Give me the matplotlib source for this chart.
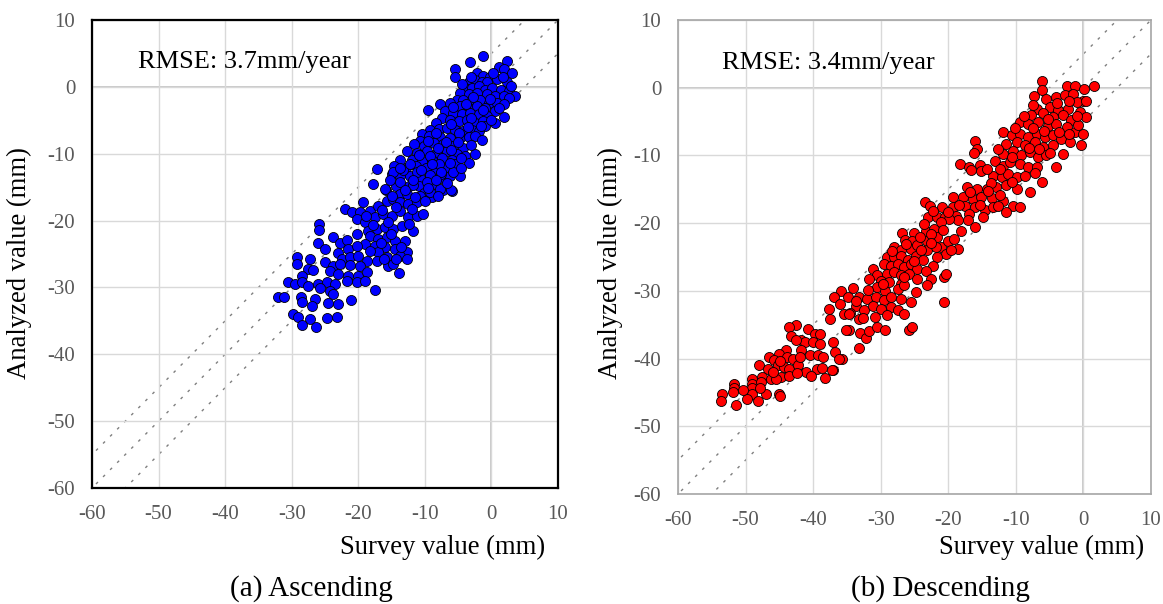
import numpy as np
import matplotlib.pyplot as plt

plt.rcParams['font.family'] = ['Liberation Serif', 'DejaVu Serif']
plt.rcParams['axes.unicode_minus'] = False

# (survey, analyzed) pairs, mm
asc_points = np.array([
    (-1.2, 4.6), (-3.2, 3.7), (2.4, 3.8), (1.1, 2.9), (1.9, 2.6), (-5.4, 2.6), (3.1, 2.1),
    (-5.4, 1.4), (-2.2, 2.1), (-1.2, 1.6), (-0.2, 1.4), (0.9, 1.2), (2.4, 0.7), (-3.4, 0.8),
    (-2.4, 1.1), (-1.4, 0.7), (-0.7, 0.7),
    (-3.9, -0.1), (-2.9, -0.1), (-1.9, 0.1), (-0.9, -0.4), (0.1, -0.1), (1.4, -0.4), (2.6, -0.6),
    (-4.7, -0.9), (-3.4, -1.1), (-2.2, -0.9), (-0.7, -1.1), (0.6, -1.4), (1.9, -1.4), (3.6, -1.4),
    (2.6, -1.6),
    (-5.2, -1.9), (-4.2, -1.9), (-2.9, -2.1), (-1.7, -1.9), (-0.4, -2.4), (0.9, -2.4), (1.9, -2.6),
    (-7.7, -2.6), (-6.2, -2.4), (-4.7, -2.9), (-3.4, -3.1), (-2.2, -2.9), (-0.9, -3.1), (0.6, -3.6),
    (-9.6, -3.4),
    (-6.9, -3.6), (-5.7, -3.9), (-4.4, -4.1), (-3.2, -3.9), (-1.9, -4.1), (-0.7, -4.4), (1.9, -4.5),
    (-7.4, -4.6), (-6.2, -4.9), (-4.9, -5.1), (-3.7, -5.0), (-2.4, -5.4), (-1.2, -5.1), (0.5, -5.4),
    (-8.4, -5.4),
    (-9.2, -6.4), (-7.9, -6.3), (-6.7, -6.1), (-5.4, -6.4), (-4.2, -6.6), (-2.9, -6.4), (-1.9, -6.6),
    (-0.9, -5.8), (-10.4, -7.1), (-9.4, -7.4), (-7.7, -7.5), (-6.2, -7.6), (-4.7, -7.6), (-3.4, -7.5),
    (-2.4, -7.4), (-1.4, -8.0), (-10.7, -8.1), (-8.7, -8.4),
    (-11.7, -8.6), (-10.2, -8.9), (-7.2, -8.6), (-5.7, -8.9), (-4.2, -9.1), (-12.7, -9.6),
    (-11.2, -9.9), (-9.7, -9.6), (-8.2, -9.9), (-6.7, -9.6), (-5.2, -10.0), (-3.9, -10.4),
    (-2.4, -10.0), (-13.7, -10.9), (-11.9, -10.9), (-10.4, -11.1), (-8.9, -10.9), (-7.4, -10.6),
    (-5.9, -10.9), (-3.4, -11.4),
    (-14.7, -11.9), (-12.9, -12.1), (-11.4, -11.9), (-9.9, -12.1), (-8.4, -12.4), (-6.9, -12.1),
    (-5.4, -11.6), (-14.9, -13.1), (-13.7, -13.4), (-12.2, -13.3), (-10.7, -13.6), (-9.2, -13.4),
    (-7.7, -13.6), (-6.2, -13.4), (-4.7, -13.4), (-15.9, -15.4), (-14.4, -14.9), (-12.4, -14.9),
    (-10.9, -14.9), (-8.7, -14.6), (-7.2, -15.4), (-5.9, -15.6), (-10.2, -15.9), (-13.7, -16.1),
    (-14.75, -12.75), (-13.25, -12.5), (-11.25, -12.75), (-9.25, -13.25), (-7.5, -13.0),
    (-5.75, -12.75), (-13.75, -14.25), (-11.75, -14.75), (-9.75, -14.25), (-7.75, -15.25),
    (-6.0, -15.5), (-12.75, -16.0), (-10.75, -16.25), (-9.0, -16.5),
    (-17.25, -12.35), (-17.75, -14.5), (-16.0, -15.25),
    (-19.25, -17.25), (-22.0, -18.25), (-21.0, -18.65), (-19.75, -18.75), (-18.25, -18.5),
    (-17.0, -17.75), (-15.75, -17.0), (-14.75, -16.75), (-13.75, -17.25), (-12.5, -17.5),
    (-11.25, -17.25), (-10.0, -17.0), (-9.25, -15.75),
    (-20.25, -19.75), (-19.0, -20.25), (-17.5, -19.5), (-16.25, -19.0), (-15.0, -19.25),
    (-13.75, -18.5), (-12.5, -19.5), (-11.25, -19.25), (-10.25, -19.0),
    (-18.5, -21.5), (-17.25, -21.25), (-16.0, -21.0), (-14.75, -21.25), (-13.5, -20.75),
    (-11.75, -21.5), (-20.25, -22.0), (-18.25, -22.25), (-17.0, -22.75), (-15.75, -22.5),
    (-14.5, -23.0), (-13.0, -23.0), (-19.0, -23.5), (-17.5, -23.75), (-16.0, -24.0),
    (-14.5, -24.25), (-12.75, -24.65), (-17.0, -24.75), (-15.75, -25.5), (-13.75, -25.25),
    (-12.75, -25.75), (-17.25, -26.0), (-15.5, -26.75), (-14.75, -26.5), (-13.85, -27.85),
    (-17.5, -30.35),
    (-25.85, -20.5), (-25.85, -21.35), (-23.85, -22.5), (-26.0, -23.35), (-22.75, -23.35),
    (-21.65, -22.85), (-25.0, -24.25), (-23.0, -24.85), (-21.5, -24.25), (-20.25, -23.85),
    (-22.5, -25.75), (-21.25, -25.5), (-20.0, -25.25), (-18.75, -26.0), (-29.25, -25.5),
    (-29.25, -26.5), (-27.25, -25.75), (-25.0, -26.15), (-23.75, -26.75), (-22.75, -26.5),
    (-21.25, -26.65), (-19.75, -26.75), (-27.5, -27.25), (-26.75, -27.35), (-24.25, -27.5),
    (-23.0, -28.0), (-21.5, -28.25), (-20.0, -28.25), (-18.75, -27.75), (-28.5, -28.25),
    (-30.5, -29.25), (-29.5, -29.5), (-28.5, -29.25), (-27.5, -29.85), (-26.0, -29.5),
    (-24.75, -29.25), (-23.5, -29.5), (-21.75, -29.0), (-20.25, -29.25), (-19.0, -29.0),
    (-25.75, -30.15), (-24.25, -30.5), (-32.0, -31.5), (-31.15, -31.5), (-28.6, -31.5),
    (-26.5, -31.75), (-23.75, -31.0), (-28.5, -32.25), (-26.9, -32.85), (-24.5, -32.35),
    (-23.0, -32.5), (-21.15, -31.85), (-29.75, -34.0), (-29.0, -34.35), (-27.25, -34.75),
    (-24.75, -34.5), (-23.15, -34.4), (-28.5, -35.65), (-26.4, -35.85),
    # overlapped points inside the dense band
    (-3.0, 1.5), (0.3, 2.0), (-4.4, 0.4), (1.8, 1.5), (3.0, 0.2), (-2.7, -1.5), (-0.2, -1.8),
    (1.2, -3.2), (-5.8, -3.0), (-3.8, -2.5), (-1.3, -3.5), (-0.1, -5.0), (-6.0, -5.6),
    (-3.0, -4.6), (-1.6, -5.9), (-4.8, -6.9), (-3.5, -6.0), (-8.4, -6.9), (-6.8, -8.2),
    (-5.0, -8.3), (-3.0, -8.7), (-9.5, -8.1), (-8.0, -9.2), (-6.0, -9.5), (-4.5, -10.7),
    (-10.9, -10.2), (-9.3, -10.4), (-7.9, -11.5), (-6.2, -11.4), (-4.6, -12.2), (-12.2, -11.5),
    (-10.6, -12.4), (-9.0, -11.6), (-7.5, -12.8), (-13.8, -12.2), (-11.8, -14.0), (-8.4, -14.0),
    (-6.6, -14.4), (-15.2, -14.0), (-13.0, -15.5), (-9.6, -15.1), (-11.5, -16.5), (-15.0, -16.3),
    (-8.0, -16.3), (-14.3, -18.0), (-12.0, -18.3), (-16.5, -18.4), (-18.8, -19.3), (-15.6, -20.2),
    (-12.4, -20.5), (-17.8, -20.6), (-15.1, -22.0), (-16.6, -23.3), (-13.6, -23.9), (-18.2, -24.6),
    (-16.2, -25.7), (-14.4, -25.8),
])

desc_points = np.array([
    (-6.2, 0.94), (-6.1, -0.4), (-7.3, -1.2), (-2.5, 0.3), (-1.3, 0.2), (0.1, -0.25), (1.6, 0.2),
    (-5.5, -1.7), (-4.0, -1.4), (-2.8, -1.1), (-1.5, -0.9), (0.0, -1.9), (-1.0, -2.1), (0.4, -1.9),
    (-6.9, -3.1), (-5.0, -2.9), (-3.7, -3.3), (-2.3, -3.1), (-0.5, -3.6), (0.4, -4.3),
    (-7.7, -4.1), (-6.0, -3.8), (-4.5, -4.3), (-3.0, -4.1), (-1.8, -4.8),
    (-9.4, -5.1), (-8.2, -5.3), (-6.7, -5.1), (-5.2, -5.6), (-4.0, -5.3), (-2.5, -5.8),
    (-1.3, -6.6), (0.0, -6.8), (-0.3, -8.5),
    (-11.9, -6.6), (-10.6, -7.0), (-9.4, -6.8), (-8.2, -7.3), (-6.9, -6.8), (-5.7, -7.3),
    (-4.5, -7.0), (-3.3, -7.5), (-2.0, -8.0),
    (-11.4, -8.3), (-9.9, -8.0), (-8.7, -8.5), (-7.2, -8.0), (-6.0, -8.8), (-4.5, -8.5),
    (-3.0, -9.8), (-16.0, -7.9), (-15.7, -9.1), (-16.2, -9.7), (-13.1, -10.8), (-11.9, -9.8),
    (-10.4, -9.3), (-9.2, -10.0), (-7.9, -9.5), (-6.7, -10.2), (-5.5, -10.0), (-4.0, -11.7),
    (-18.3, -11.3), (-16.9, -11.7), (-15.3, -11.4), (-16.6, -12.2), (-15.2, -12.3),
    (-11.9, -11.5), (-10.9, -11.0), (-9.4, -11.2), (-8.2, -11.7), (-6.9, -11.7),
    (-13.4, -13.0), (-12.1, -13.2), (-11.1, -12.7), (-9.9, -13.2), (-8.7, -13.0), (-6.1, -13.9),
    (-7.9, -15.4), (-17.3, -14.7), (-15.8, -14.9), (-14.3, -14.9), (-12.9, -14.7),
    (-11.4, -14.4), (-9.9, -14.9),
    (-19.3, -16.2), (-17.8, -16.1), (-16.3, -16.4), (-15.1, -16.2), (-13.6, -16.3),
    (-11.9, -16.7), (-10.4, -17.4), (-9.4, -17.6), (-23.4, -16.9), (-22.7, -17.4),
    (-21.0, -17.6), (-19.3, -17.6), (-17.5, -17.4), (-16.1, -17.6), (-14.6, -18.1),
    (-13.4, -17.6), (-11.4, -18.4), (-23.0, -19.1), (-21.7, -19.1), (-20.5, -19.1),
    (-18.8, -18.9), (-17.0, -18.6), (-14.8, -19.1),
    (-26.8, -21.5), (-25.0, -21.5), (-26.4, -22.5), (-25.3, -22.6), (-28.0, -23.5),
    (-27.0, -24.0), (-25.5, -23.8), (-24.6, -23.3), (-29.0, -25.0), (-28.0, -25.0),
    (-27.0, -24.8), (-26.0, -25.5), (-24.8, -24.8), (-29.5, -26.0), (-28.5, -26.3),
    (-27.5, -26.0), (-26.5, -26.5), (-25.5, -26.0), (-24.6, -26.7), (-31.2, -26.7),
    (-30.5, -27.7), (-31.7, -28.2), (-29.0, -27.5), (-28.0, -27.2), (-27.0, -27.7),
    (-25.8, -27.5), (-24.6, -28.2), (-30.0, -28.5), (-28.8, -28.7), (-27.0, -29.0),
    (-30.5, -29.5), (-29.3, -30.0), (-27.5, -29.7), (-26.5, -29.2), (-24.8, -30.2),
    (-35.9, -30.0), (-36.9, -30.9), (-34.9, -30.9), (-34.1, -29.6), (-33.2, -30.9),
    (-32.0, -31.2), (-30.7, -30.9), (-29.5, -31.4), (-28.5, -30.9), (-27.0, -31.2),
    (-25.5, -31.7), (-37.7, -32.7), (-33.7, -32.2), (-32.5, -32.9), (-31.2, -32.2),
    (-30.0, -32.7), (-28.5, -32.4), (-27.5, -32.9), (-26.5, -33.4), (-35.4, -33.4),
    (-34.5, -33.2),
    (-23.3, -21.1), (-22.1, -20.8), (-23.1, -22.6), (-21.6, -22.1), (-21.1, -23.5),
    (-20.1, -22.6), (-19.1, -22.3), (-20.3, -24.5), (-21.6, -25.0), (-22.3, -26.3),
    (-23.8, -25.5), (-23.3, -27.0), (-22.6, -28.2), (-23.1, -29.2), (-20.6, -28.0),
    (-20.3, -27.5), (-20.6, -31.7), (-23.6, -20.1), (-18.1, -21.1), (-17.1, -19.6),
    (-16.1, -20.6), (-18.6, -23.8), (-19.6, -24.0), (-18.6, -19.6), (-19.9, -19.4),
    (-21.1, -19.9), (-23.1, -24.0), (-21.8, -23.5),
    (-42.5, -35.0), (-43.5, -35.4), (-40.75, -35.6), (-43.25, -36.6), (-41.75, -37.3),
    (-39.75, -36.4), (-39.0, -36.4), (-41.25, -37.5), (-42.5, -37.3), (-44.0, -38.8),
    (-45.0, -39.3), (-43.85, -39.8), (-43.0, -40.0), (-41.75, -38.8), (-40.5, -39.5),
    (-39.25, -39.5), (-38.5, -39.8), (-37.0, -37.5), (-36.75, -39.0), (-35.75, -40.0),
    (-40.0, -37.5), (-46.5, -39.8), (-45.75, -40.2), (-48.0, -41.0), (-46.75, -41.5),
    (-45.25, -41.0), (-44.25, -41.3), (-43.5, -41.5), (-42.25, -41.0), (-41.0, -42.0),
    (-39.5, -41.5), (-38.65, -41.4), (-37.0, -41.7), (-49.0, -43.0), (-47.5, -42.7),
    (-46.25, -43.0), (-44.75, -42.7), (-43.5, -42.5), (-40.25, -42.5), (-38.25, -42.8),
    (-51.75, -43.7), (-51.75, -44.4), (-49.0, -43.7), (-47.75, -43.4), (-49.0, -44.4),
    (-49.0, -45.2), (-47.0, -45.2), (-53.5, -45.2), (-53.65, -46.2), (-51.85, -45.0),
    (-49.75, -45.9), (-48.15, -46.3), (-51.35, -46.8), (-45.0, -45.3), (-44.9, -45.5),
    (-45.5, -43.0),
    (-34.75, -33.35), (-33.25, -34.1), (-34.75, -35.8), (-33.25, -38.5), (-37.5, -34.2),
    (-33.0, -36.2), (-32.2, -37.0), (-31.8, -36.0), (-30.6, -35.3), (-29.3, -35.8),
    (-25.8, -35.8), (-25.3, -35.3), (-35.2, -35.8), (-36.2, -40.0), (-37.2, -41.7),
    # overlapped points inside the band
    (-8.8, -4.2), (-7.4, -6.0), (-5.9, -6.4), (-3.6, -6.6), (-2.2, -6.9), (-0.8, -5.5),
    (-3.9, -2.2), (-2.1, -2.0), (-1.0, -4.2), (-7.5, -2.6), (-5.3, -4.6), (-10.2, -5.9),
    (-8.1, -8.9), (-6.6, -9.0), (-4.9, -9.7), (-10.6, -10.3), (-12.6, -9.0), (-14.3, -12.0),
    (-12.4, -12.0), (-7.2, -12.6), (-10.6, -13.9), (-13.7, -14.1), (-16.8, -15.4),
    (-14.1, -15.3), (-12.4, -15.8), (-18.4, -17.3), (-15.3, -17.3), (-20.0, -18.3),
    (-22.2, -18.2), (-12.6, -17.4), (-24.2, -22.0), (-22.6, -21.6), (-20.8, -21.0),
    (-24.0, -23.9), (-22.5, -23.0), (-26.2, -23.1), (-25.0, -25.6), (-28.4, -24.1),
    (-26.5, -27.9), (-29.7, -29.0), (-31.9, -29.9), (-33.6, -31.5), (-36.0, -32.0),
    (-32.6, -34.0), (-30.9, -33.8), (-29.0, -33.5), (-39.0, -37.9), (-42.0, -39.8),
    (-44.9, -40.4), (-46.0, -42.0), (-42.4, -42.2), (-47.8, -44.4), (-50.4, -44.6),
])

asc_survey, asc_analyzed = asc_points[:, 0], asc_points[:, 1]
desc_survey, desc_analyzed = desc_points[:, 0], desc_points[:, 1]

ticks = [-60, -50, -40, -30, -20, -10, 0, 10]
offsets = [-5, 0, 5]

fig = plt.figure(figsize=(11.63, 6.04), dpi=100)
W, H = 1163, 604
ax1 = fig.add_axes([92 / W, (H - 488) / H, 466 / W, 468 / H])
ax2 = fig.add_axes([678 / W, (H - 494) / H, 473 / W, 474 / H])

panels = [
    (ax1, asc_survey, asc_analyzed, '#0000ff', 'RMSE: 3.7mm/year', 0.098, 'black', 1.6),
    (ax2, desc_survey, desc_analyzed, '#ff0000', 'RMSE: 3.4mm/year', 0.092, '#a6a6a6', 1.2),
]

for ax, xs, ys, color, rmse, tx, frame_color, frame_lw in panels:
    ax.set_xlim(-60, 10)
    ax.set_ylim(-60, 10)
    ax.set_xticks(ticks)
    ax.set_yticks(ticks)
    ax.grid(True, color='#d9d9d9', linewidth=1.0, zorder=0)
    ax.axhline(0, color='#bfbfbf', linewidth=1.2, zorder=0.5)
    ax.axvline(0, color='#bfbfbf', linewidth=1.2, zorder=0.5)
    line_x = np.array([-70, 20])
    for off in offsets:
        ax.plot(line_x, line_x + off, color='#7f7f7f', linewidth=1.0,
                linestyle=(0, (2, 5.2)), zorder=1)
    ax.scatter(xs, ys, s=52, color=color, edgecolor='black', linewidth=0.6, zorder=3)
    ax.tick_params(length=0, pad=12, labelsize=15, labelcolor='#595959')
    for sp in ax.spines.values():
        sp.set_color(frame_color)
        sp.set_linewidth(frame_lw)
    ax.text(tx, 0.91, rmse, transform=ax.transAxes, fontsize=19, va='center')

fig.text(545 / W, 1 - 547 / H, 'Survey value (mm)', fontsize=19.2, ha='right', va='center')
fig.text(1144 / W, 1 - 547 / H, 'Survey value (mm)', fontsize=19.2, ha='right', va='center')
fig.text(19 / W, 1 - 263 / H, 'Analyzed value (mm)', fontsize=19.2, rotation=90,
         ha='center', va='center')
fig.text(610 / W, 1 - 263 / H, 'Analyzed value (mm)', fontsize=19.2, rotation=90,
         ha='center', va='center')
fig.text(311 / W, 1 - 589 / H, '(a) Ascending', fontsize=21, ha='center', va='center')
fig.text(940 / W, 1 - 589 / H, '(b) Descending', fontsize=21, ha='center', va='center')

fig.savefig('out.png', dpi=100)
